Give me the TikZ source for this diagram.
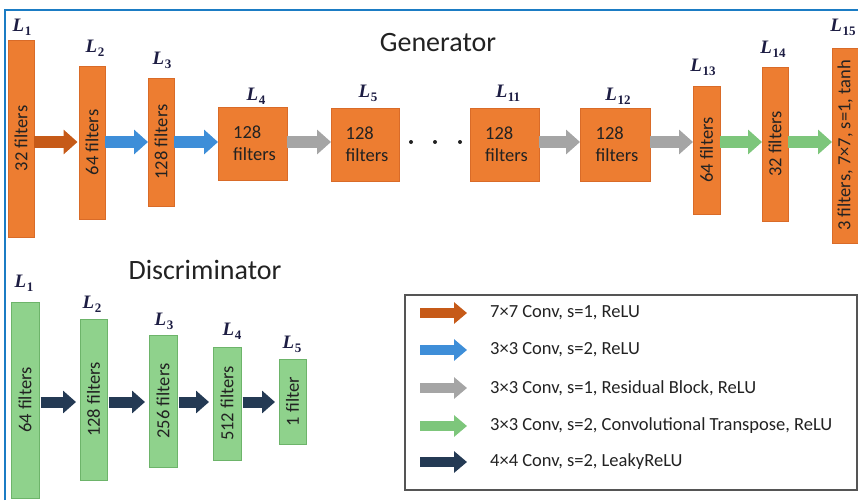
\documentclass[tikz,border=0pt]{standalone}
\usepackage{fontspec}
\setmainfont{Carlito}
\newfontfamily\layerfont{Liberation Serif}
\usetikzlibrary{arrows.meta}

\definecolor{genfill}{HTML}{ED7D31}
\definecolor{genedge}{HTML}{D96B28}
\definecolor{disfill}{HTML}{8FD28C}
\definecolor{disedge}{HTML}{6DB46A}
\definecolor{convbrown}{HTML}{C65A18}
\definecolor{convblue}{HTML}{3E8ED8}
\definecolor{convgray}{HTML}{A5A5A5}
\definecolor{convgreen}{HTML}{7DC67B}
\definecolor{convnavy}{HTML}{243A54}
\definecolor{framecol}{HTML}{1B7CC4}
\definecolor{ink}{HTML}{222222}
\definecolor{legendedge}{HTML}{555555}

% layer tag: italic L with an upright subscript index
\newcommand\layertag[1]{{\itshape L}\kern0.5pt\raisebox{-4pt}{\fontsize{13}{13}\selectfont #1}}

\begin{document}
\begin{tikzpicture}[x=1pt, y=-1pt,
  bar/.style={inner sep=0pt, outer sep=0pt, line width=0.6pt},
  genbar/.style={bar, draw=genedge, fill=genfill},
  disbar/.style={bar, draw=disedge, fill=disfill},
  bartext/.style={font=\fontsize{18.5}{22}\selectfont, text=ink, inner sep=0pt},
  vtext/.style={bartext, rotate=90},
  layer/.style={font=\layerfont\bfseries\fontsize{19}{19}\selectfont, text=ink!85!blue,
                inner sep=0pt, anchor=base},
  heading/.style={font=\fontsize{28}{30}\selectfont, text=ink, inner sep=0pt},
  flow/.style={line width=12pt, -{Triangle[length=14pt,width=24pt]}},
  dflow/.style={line width=11pt, -{Triangle[length=13pt,width=22pt]}, draw=convnavy,
                shorten <=1.5pt, shorten >=4pt},
  legarrow/.style={line width=10.5pt, -{Triangle[length=13pt,width=21pt]}},
  legtext/.style={font=\fontsize{18.5}{22}\selectfont, text=ink, anchor=west, inner sep=0pt}]

\useasboundingbox (0,0) rectangle (858,500);

% outer frame (top and left edges)
\draw[framecol, line width=1.5pt] (5,500) -- (5,10) -- (858,10);

% ---------------- Generator ----------------
\node[heading] (gtitle) at (438,43) {Generator};

\node[genbar, minimum width=26pt, minimum height=197pt] (g1)  at (21,138.5) {};
\node[genbar, minimum width=26pt, minimum height=153pt] (g2)  at (92,142.5) {};
\node[genbar, minimum width=26pt, minimum height=128pt] (g3)  at (161,142) {};
\node[genbar, minimum width=69pt, minimum height=73pt]  (g4)  at (252.5,143.5) {};
\node[genbar, minimum width=68pt, minimum height=73pt]  (g5)  at (365,144.5) {};
\node[genbar, minimum width=69pt, minimum height=73pt]  (g11) at (504.5,144.5) {};
\node[genbar, minimum width=70pt, minimum height=73pt]  (g12) at (615,144.5) {};
\node[genbar, minimum width=27pt, minimum height=128pt] (g13) at (706.5,150) {};
\node[genbar, minimum width=26pt, minimum height=154pt] (g14) at (775,144) {};
\node[genbar, minimum width=26pt, minimum height=195pt] (g15) at (845,145.5) {};

\node[vtext] (g1t)  at (g1.center)  {32 filters};
\node[vtext] (g2t)  at (g2.center)  {64 filters};
\node[vtext] (g3t)  at (g3.center)  {128 filters};
\node[bartext, align=left] (g4t)  at ([xshift=2pt]g4.center)  {128\\filters};
\node[bartext, align=left] (g5t)  at ([xshift=2pt]g5.center)  {128\\filters};
\node[bartext, align=left] (g11t) at ([xshift=2pt]g11.center) {128\\filters};
\node[bartext, align=left] (g12t) at ([xshift=2pt]g12.center) {128\\filters};
\node[vtext] (g13t) at (g13.center) {64 filters};
\node[vtext] (g14t) at (g14.center) {32 filters};
\node[vtext] (g15t) at (g15.center) {3 filters, 7×7, s=1, tanh};

\node[layer] (gl1)  at (22,32)   {\layertag{1}};
\node[layer] (gl2)  at (95,53)   {\layertag{2}};
\node[layer] (gl3)  at (162,65)  {\layertag{3}};
\node[layer] (gl4)  at (256,100) {\layertag{4}};
\node[layer] (gl5)  at (368,98)  {\layertag{5}};
\node[layer] (gl11) at (508,98)  {\layertag{11}};
\node[layer] (gl12) at (618,100) {\layertag{12}};
\node[layer] (gl13) at (703,72)  {\layertag{13}};
\node[layer] (gl14) at (773,54)  {\layertag{14}};
\node[layer] (gl15) at (843,32)  {\layertag{15}};

% ellipsis between L5 and L11
\fill[ink] (411,142) circle (2pt) (435,142) circle (2pt) (460,142) circle (2pt);

\coordinate (gy) at (0,142);
\draw[flow, convbrown, shorten >=1.5pt] (g1.east |- gy) -- (g2.west |- gy);
\draw[flow, convblue]  (g2.east |- gy)  -- (g3.west |- gy);
\draw[flow, convblue]  (g3.east |- gy)  -- (g4.west |- gy);
\draw[flow, convgray]  (g4.east |- gy)  -- (g5.west |- gy);
\draw[flow, convgray]  (g11.east |- gy) -- (g12.west |- gy);
\draw[flow, convgray]  (g12.east |- gy) -- (g13.west |- gy);
\draw[flow, convgreen] (g13.east |- gy) -- (g14.west |- gy);
\draw[flow, convgreen] (g14.east |- gy) -- (g15.west |- gy);

% ---------------- Discriminator ----------------
\node[heading] (dtitle) at (205,270) {Discriminator};

\node[disbar, minimum width=28pt, minimum height=196pt] (d1) at (25,400) {};
\node[disbar, minimum width=27pt, minimum height=161pt] (d2) at (93.5,399.5) {};
\node[disbar, minimum width=28pt, minimum height=132pt] (d3) at (163,401) {};
\node[disbar, minimum width=28pt, minimum height=113pt] (d4) at (227,403.5) {};
\node[disbar, minimum width=27pt, minimum height=85pt]  (d5) at (292.5,401.5) {};

\node[vtext] (d1t) at (d1.center) {64 filters};
\node[vtext] (d2t) at (d2.center) {128 filters};
\node[vtext] (d3t) at (d3.center) {256 filters};
\node[vtext] (d4t) at (d4.center) {512 filters};
\node[vtext] (d5t) at (d5.center) {1 filter};

\node[layer] (dl1) at (24,287)  {\layertag{1}};
\node[layer] (dl2) at (92,308)  {\layertag{2}};
\node[layer] (dl3) at (164,325) {\layertag{3}};
\node[layer] (dl4) at (232,335) {\layertag{4}};
\node[layer] (dl5) at (292,348) {\layertag{5}};

\coordinate (dy) at (0,402);
\draw[dflow] (d1.east |- dy) -- (d2.west |- dy);
\draw[dflow] (d2.east |- dy) -- (d3.west |- dy);
\draw[dflow] (d3.east |- dy) -- (d4.west |- dy);
\draw[dflow] (d4.east |- dy) -- (d5.west |- dy);

% ---------------- Legend ----------------
\node[draw=legendedge, line width=1.2pt, inner sep=0pt,
      minimum width=452pt, minimum height=195pt] (legend) at (631,392.5) {};

\node[legtext] (e1) at (490,313) {7×7 Conv, s=1, ReLU};
\node[legtext] (e2) at (490,350) {3×3 Conv, s=2, ReLU};
\node[legtext] (e3) at (490,388) {3×3 Conv, s=1, Residual Block, ReLU};
\node[legtext] (e4) at (490,426) {3×3 Conv, s=2, Convolutional Transpose, ReLU};
\node[legtext] (e5) at (490,462) {4×4 Conv, s=2, LeakyReLU};

\draw[legarrow, convbrown] ([xshift=-70pt]e1.west) -- ([xshift=-23pt]e1.west);
\draw[legarrow, convblue]  ([xshift=-70pt]e2.west) -- ([xshift=-23pt]e2.west);
\draw[legarrow, convgray]  ([xshift=-70pt]e3.west) -- ([xshift=-23pt]e3.west);
\draw[legarrow, convgreen] ([xshift=-70pt]e4.west) -- ([xshift=-23pt]e4.west);
\draw[legarrow, convnavy]  ([xshift=-70pt]e5.west) -- ([xshift=-23pt]e5.west);

\end{tikzpicture}
\end{document}
